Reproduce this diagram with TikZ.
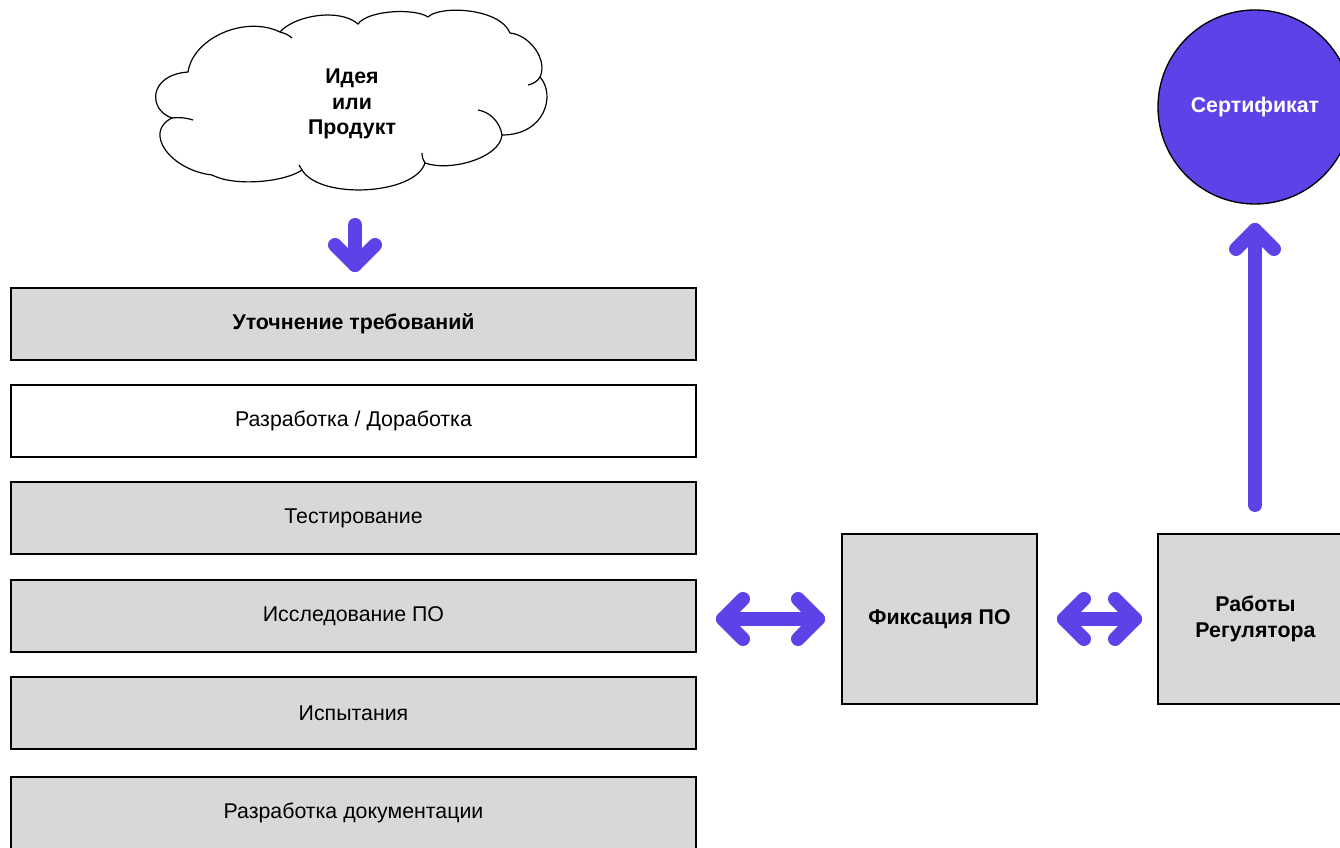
\documentclass[tikz,border=0pt]{standalone}
\usepackage{fontspec}
\setmainfont{Liberation Sans}
\definecolor{vio}{HTML}{5D43E7}
\definecolor{boxgray}{HTML}{D8D8D8}
\tikzset{
  lbox/.style={draw=black,line width=1.3pt,fill=boxgray,minimum width=513.75pt,minimum height=54pt,inner sep=0pt,font=\fontsize{16pt}{19pt}\selectfont},
  sqbox/.style={draw=black,line width=1.3pt,fill=boxgray,minimum width=146.25pt,minimum height=127.5pt,inner sep=0pt,align=center,font=\bfseries\fontsize{16pt}{19.5pt}\selectfont},
  vline/.style={draw=vio,line width=10.5pt,line cap=round,line join=round},
  cloudline/.style={draw=black,line width=0.9pt}
}
\begin{document}
\begin{tikzpicture}[x=0.75pt,y=-0.75pt]
\clip (0,0) rectangle (1340,848);
\fill[white] (0,0) rectangle (1340,848);
% cloud outline
\path[cloudline,fill=white] (188,72)
  .. controls (193,38) and (245,15) .. (280,32)
  .. controls (295,15) and (340,8) .. (358,24)
  .. controls (368,10) and (415,8) .. (428,17)
  .. controls (440,5) and (500,8) .. (510,33)
  .. controls (530,35) and (548,60) .. (540,77)
  .. controls (556,95) and (545,135) .. (502,135)
  .. controls (500,158) and (450,172) .. (425,163)
  .. controls (415,195) and (320,200) .. (302,170)
  .. controls (285,182) and (235,187) .. (212,175)
  .. controls (170,170) and (143,132) .. (172,118)
  .. controls (148,110) and (148,75) .. (188,72) -- cycle;
% interior arcs of the cloud
\draw[cloudline] (280,32) .. controls (284,33) and (289,35) .. (292,38);
\draw[cloudline] (540,77) .. controls (538,81) and (533,84) .. (528,85);
\draw[cloudline] (478,110) .. controls (490,112) and (500,122) .. (502,135);
\draw[cloudline] (425,163) .. controls (423,160) and (422,157) .. (422,153);
\draw[cloudline] (172,118) .. controls (180,117) and (187,118) .. (193,120);
\draw[cloudline] (302,170) .. controls (301,168) and (300,167) .. (299,165);
\node[align=center,inner sep=0pt,font=\bfseries\fontsize{16pt}{19pt}\selectfont] (idea) at (352,104) {Идея\\или\\Продукт};
% left boxes
\node[lbox] (b1) at (353.5,324) {\bfseries Уточнение требований};
\node[lbox,fill=white] (b2) at (353.5,421) {Разработка / Доработка};
\node[lbox] (b3) at (353.5,518) {Тестирование};
\node[lbox] (b4) at (353.5,616) {Исследование ПО};
\node[lbox] (b5) at (353.5,713) {Испытания};
\node[lbox] (b6) at (353.5,813) {Разработка документации};
% right boxes
\node[sqbox] (fix) at (939.5,619) {Фиксация ПО};
\node[sqbox] (reg) at (1255.5,619) {Работы\\Регулятора};
\node[circle,draw=black,line width=1pt,fill=vio,minimum size=145.5pt,inner sep=0pt,text=white,font=\bfseries\fontsize{16pt}{19pt}\selectfont] (cert) at (1255,107) {Сертификат};
% connectors: idea -> b1
\coordinate (dA) at (355,225);
\coordinate (dB) at (355,265);
\draw[vline] (dA) -- (dB);
\draw[vline] (dB) ++(-20,-20) -- (dB) -- ++(20,-20);
% b4 <-> fix
\coordinate (lA) at (723,619);
\coordinate (lB) at (818,619);
\draw[vline] (lA) -- (lB);
\draw[vline] (lA) ++(20,-20) -- (lA) -- ++(20,20);
\draw[vline] (lB) ++(-20,-20) -- (lB) -- ++(-20,20);
% fix <-> reg
\coordinate (rA) at (1064,619);
\coordinate (rB) at (1135,619);
\draw[vline] (rA) -- (rB);
\draw[vline] (rA) ++(20,-20) -- (rA) -- ++(20,20);
\draw[vline] (rB) ++(-20,-20) -- (rB) -- ++(-20,20);
% reg -> cert
\coordinate (uA) at (1255,505);
\coordinate (uB) at (1255,230);
\draw[vline] (uA) -- (uB);
\draw[vline] (uB) ++(-19,19) -- (uB) -- ++(19,19);
\end{tikzpicture}
\end{document}
